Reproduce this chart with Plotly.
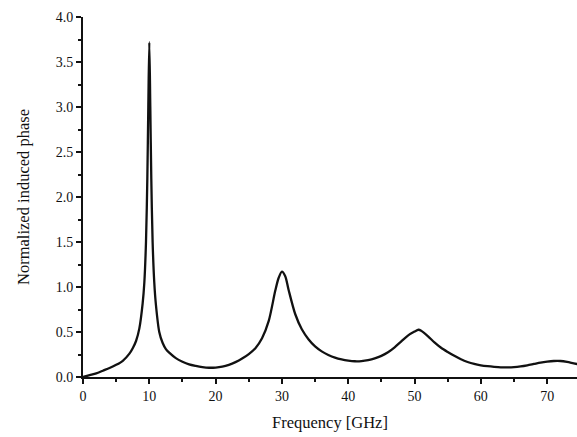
import plotly.graph_objects as go

freq = [0, 1, 2, 3, 4, 5, 6, 7, 7.5, 8, 8.5, 9, 9.25, 9.5, 9.7, 9.85, 10, 10.15, 10.3, 10.5, 10.75,
        11, 11.5, 12, 12.5, 13, 14, 15, 16, 17, 18, 19, 20, 21, 22, 23, 24, 25, 26, 27, 28, 29,
        29.5, 30, 30.5, 31, 32, 33, 34, 35, 36, 37, 38, 39, 40, 41, 42, 43, 44, 45, 46, 47,
        48, 49, 50, 50.6, 51, 52, 53, 54, 55, 56, 57, 58, 59, 60, 61, 62, 63, 64, 65, 66,
        67, 68, 69, 70, 71, 72, 73, 74, 75]
phase = [0.0, 0.02, 0.04, 0.07, 0.10, 0.135, 0.18, 0.26, 0.32, 0.40, 0.54, 0.82, 1.05, 1.5, 2.2, 3.0, 3.72, 3.0, 2.2, 1.5, 1.05,
         0.8, 0.5, 0.38, 0.31, 0.27, 0.21, 0.17, 0.14, 0.123, 0.11, 0.103, 0.105, 0.115, 0.135, 0.165, 0.205, 0.255, 0.32, 0.43, 0.62, 0.96,
         1.10, 1.17, 1.12, 0.97, 0.70, 0.53, 0.42, 0.34, 0.285, 0.245, 0.215, 0.195, 0.182, 0.175, 0.177, 0.188, 0.207, 0.235, 0.275, 0.33,
         0.395, 0.46, 0.505, 0.525, 0.515, 0.455, 0.385, 0.325, 0.278, 0.235, 0.197, 0.167, 0.145, 0.13, 0.12, 0.113, 0.108, 0.107, 0.11, 0.118,
         0.13, 0.145, 0.16, 0.171, 0.178, 0.178, 0.168, 0.152, 0.137]

x_ticks = [0, 10, 20, 30, 40, 50, 60, 70]
y_ticks = [0.0, 0.5, 1.0, 1.5, 2.0, 2.5, 3.0, 3.5, 4.0]

ink = "#111111"
fam = "Liberation Serif, Times New Roman, serif"

fig = go.Figure(go.Scatter(x=freq, y=phase, mode="lines",
                           line=dict(color=ink, width=2.3, shape="spline", smoothing=0.8)))

fig.update_layout(
    width=577, height=437,
    margin=dict(l=83, r=0, t=17, b=60),
    paper_bgcolor="white", plot_bgcolor="white",
    showlegend=False,
    font=dict(family=fam, size=14, color=ink),
)
fig.update_xaxes(
    range=[0, 74.5], tickvals=x_ticks, ticktext=[str(v) for v in x_ticks],
    showline=True, linecolor=ink, linewidth=2, ticks="outside", ticklen=5, tickwidth=2,
    tickcolor=ink, showgrid=False, zeroline=False,
    minor=dict(ticks="outside", ticklen=3, tickwidth=1.5, tickcolor=ink, dtick=5, tick0=0, showgrid=False),
    title=dict(text="Frequency [GHz]", font=dict(family=fam, size=16.5, color=ink), standoff=14),
    tickfont=dict(family=fam, size=14, color=ink),
)
fig.update_yaxes(
    range=[0, 4.0], tickvals=y_ticks, ticktext=[f"{v:.1f}" for v in y_ticks],
    showline=True, linecolor=ink, linewidth=2, ticks="outside", ticklen=5, tickwidth=2,
    tickcolor=ink, showgrid=False, zeroline=False,
    minor=dict(ticks="outside", ticklen=3, tickwidth=1.5, tickcolor=ink, dtick=0.25, tick0=0, showgrid=False),
    title=dict(text="Normalized induced phase", font=dict(family=fam, size=16.5, color=ink), standoff=22),
    tickfont=dict(family=fam, size=14, color=ink),
)

fig.write_html("out.html")
